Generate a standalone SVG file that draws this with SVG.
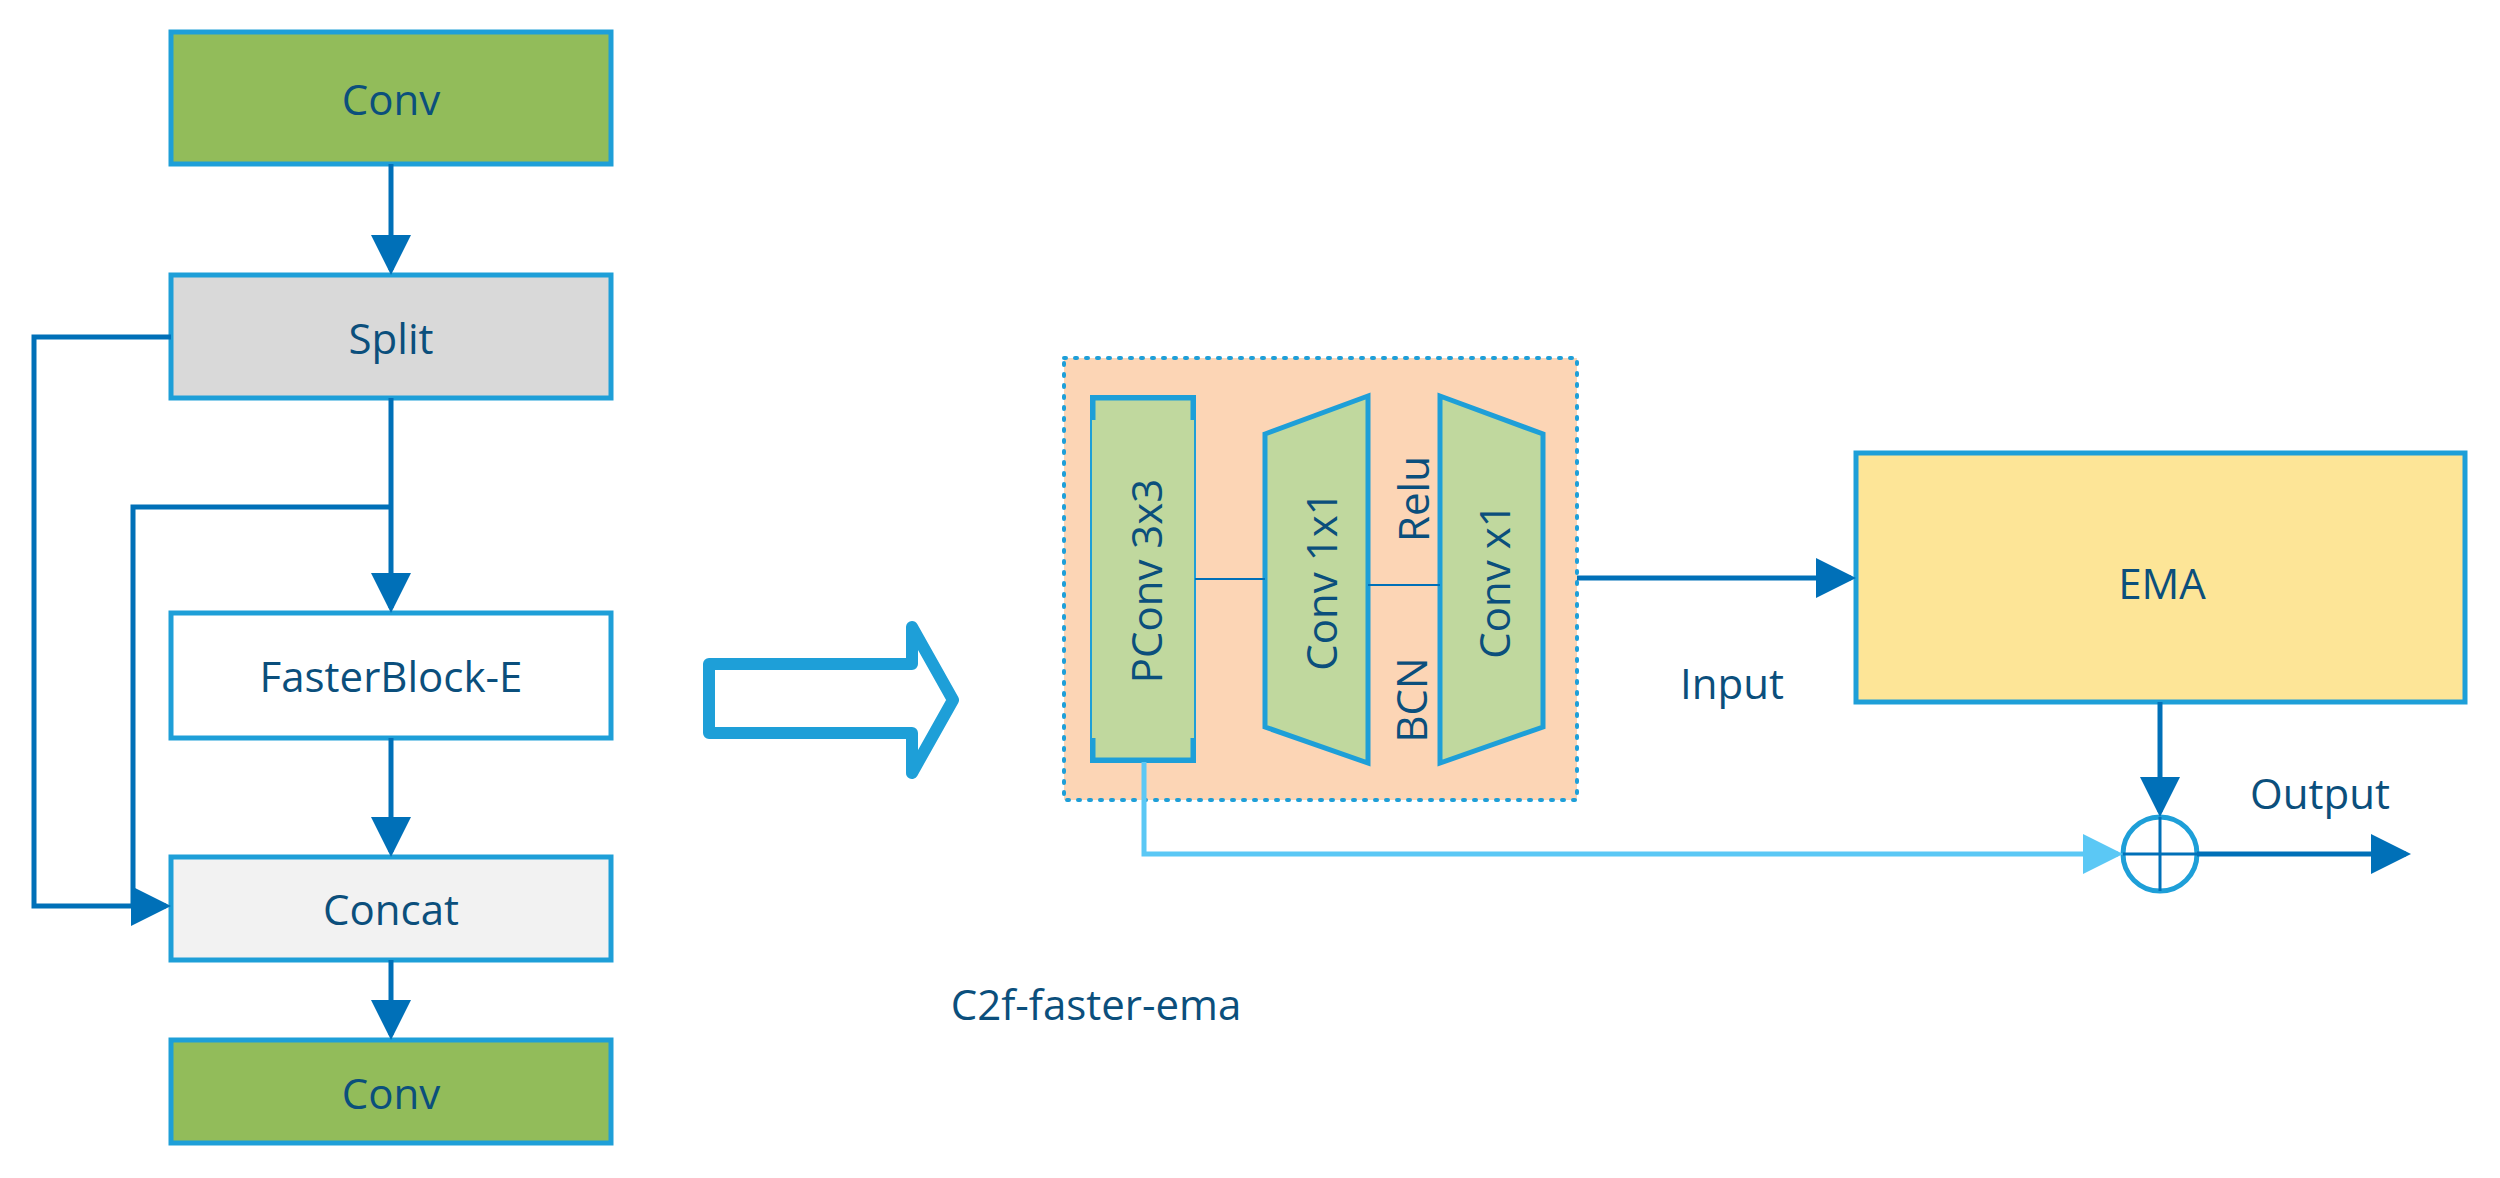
<svg xmlns="http://www.w3.org/2000/svg" width="2500" height="1178" viewBox="0 0 2500 1178">
<style>
.box{stroke:#1E9FD8;stroke-width:5}
.t{font-family:"Open Sans","Noto Sans",sans-serif;fill:#0B4F7C;font-size:42px;text-anchor:middle;dominant-baseline:central}
.c{fill:none;stroke:#0070B8;stroke-width:5}
.g{fill:#C0D89E;stroke:#1E9FD8;stroke-width:5}
</style>
<defs>
<marker id="ah" markerWidth="8" markerHeight="8" refX="7" refY="4" orient="auto" markerUnits="strokeWidth"><path d="M0,0L8,4L0,8z" fill="#0070B8"/></marker>
<marker id="ahl" markerWidth="8" markerHeight="8" refX="7" refY="4" orient="auto" markerUnits="strokeWidth"><path d="M0,0L8,4L0,8z" fill="#5BC8F5"/></marker>
</defs>
<g id="conv1"><rect class="box" x="171" y="32" width="440" height="132" fill="#92BC5A"/><text class="t" x="391" y="98">Conv</text></g>
<g id="split"><rect class="box" x="171" y="275" width="440" height="123" fill="#D9D9D9"/><text class="t" x="391" y="337">Split</text></g>
<g id="fasterblock"><rect class="box" x="171" y="613" width="440" height="125" fill="#FFFFFF"/><text class="t" x="391" y="675">FasterBlock-E</text></g>
<g id="concat"><rect class="box" x="171" y="857" width="440" height="103" fill="#F2F2F2"/><text class="t" x="391" y="908">Concat</text></g>
<g id="conv2"><rect class="box" x="171" y="1040" width="440" height="103" fill="#92BC5A"/><text class="t" x="391" y="1092">Conv</text></g>
<g id="bigarrow"><path d="M709,664H912V627L953,700L912,773V733H709Z" fill="#FFFFFF" stroke="#1E9FD8" stroke-width="12" stroke-linejoin="round"/></g>
<g id="fasterblock-detail">
<rect x="1064" y="358" width="513" height="442" fill="#FCD5B5" stroke="#1E9FD8" stroke-width="4" stroke-dasharray="2,9" stroke-linecap="round"/>
<g id="pconv"><rect x="1091" y="396" width="104" height="366" fill="#C0D89E" stroke="#1E9FD8" stroke-width="2"/>
<path d="M1093,420V398H1193V420M1093,738V760H1193V738" fill="none" stroke="#1E9FD8" stroke-width="5"/>
<text class="t" transform="translate(1145,581) rotate(-90)" font-size="40">PConv 3x3</text></g>
<g id="conv1x1"><path class="g" d="M1265,434L1368,396V763L1265,727Z"/><text class="t" transform="translate(1320,581) rotate(-90)" font-size="40">Conv 1x1</text></g>
<g id="convx1"><path class="g" d="M1440,396L1543,434V727L1440,763Z"/><text class="t" transform="translate(1493,581) rotate(-90)" font-size="40">Conv x1</text></g>
<text class="t" transform="translate(1412,499) rotate(-90)" font-size="40">Relu</text>
<text class="t" transform="translate(1410,700) rotate(-90)" font-size="40">BCN</text>
</g>
<g id="ema"><rect class="box" x="1856" y="453" width="609" height="249" fill="#FDE597"/><text class="t" x="2162" y="582" font-size="44">EMA</text></g>
<g id="add"><circle cx="2160" cy="854" r="37" fill="#FFFFFF" stroke="#1E9FD8" stroke-width="5"/><path d="M2123,854H2197M2160,817V891" stroke="#0070B8" stroke-width="3"/></g>
<g id="connectors">
<path class="c" d="M391,164V270" marker-end="url(#ah)"/>
<path class="c" d="M391,398V608" marker-end="url(#ah)"/>
<path class="c" d="M391,738V852" marker-end="url(#ah)"/>
<path class="c" d="M391,960V1035" marker-end="url(#ah)"/>
<path class="c" d="M171,337H34V906H166" marker-end="url(#ah)"/>
<path class="c" d="M391,507H133V906"/>
<path d="M1195,579H1265M1368,585H1440" stroke="#0070B8" stroke-width="2"/>
<path class="c" d="M1577,578H1851" marker-end="url(#ah)"/>
<path class="c" d="M2160,702V812" marker-end="url(#ah)"/>
<path d="M1144,762V854H2118" fill="none" stroke="#5BC8F5" stroke-width="5" marker-end="url(#ahl)"/>
<path class="c" d="M2197,854H2406" marker-end="url(#ah)"/>
</g>
<text class="t" x="1732" y="682" font-size="40">Input</text>
<text class="t" x="2320" y="792" font-size="40">Output</text>
<text class="t" x="1096" y="1003" font-size="40">C2f-faster-ema</text>
</svg>
